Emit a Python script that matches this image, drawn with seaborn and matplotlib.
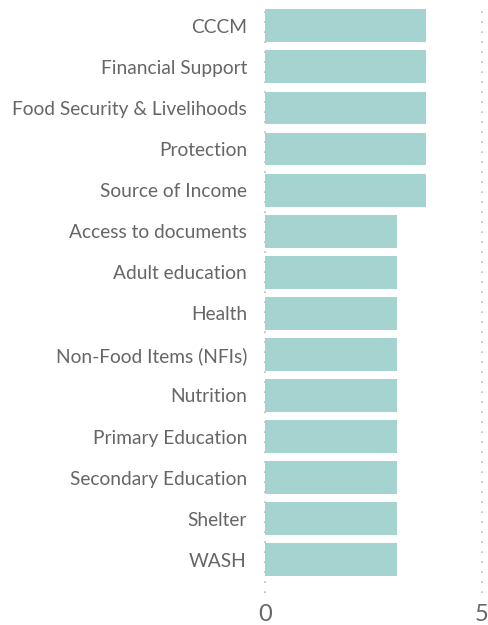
import matplotlib
matplotlib.use("Agg")
import matplotlib.pyplot as plt
import seaborn as sns
import pandas as pd

categories = ["CCCM", "Financial Support", "Food Security & Livelihoods", "Protection",
              "Source of Income", "Access to documents", "Adult education", "Health",
              "Non-Food Items (NFIs)", "Nutrition", "Primary Education",
              "Secondary Education", "Shelter", "WASH"]
values = [3.72, 3.72, 3.72, 3.72, 3.72, 3.03, 3.03, 3.03, 3.03, 3.03, 3.03, 3.03, 3.03, 3.03]
x_ticks = [0, 5]

sns.set_theme(style="white")
plt.rcParams['font.family'] = ['Lato', 'DejaVu Sans']

df = pd.DataFrame({"category": categories, "value": values})

fig = plt.figure(figsize=(4.88, 6.25), dpi=100)
ax = fig.add_axes([265/488, 1-593/625, (482-265)/488, 590/625])
for t in x_ticks:
    ax.axvline(t, color="#b8b8b8", linestyle=(0, (1, 5)), linewidth=1.2,
               zorder=0, clip_on=False)
sns.barplot(data=df, x="value", y="category", orient="h", color="#a5d3d0",
            saturation=1, width=0.8, edgecolor="none", ax=ax, zorder=2)

ax.set_xlim(0, 5)
ax.set_ylim(13 + 0.81, -0.555)
ax.set_xticks(x_ticks)
ax.set_xticklabels([str(t) for t in x_ticks])
for s in ax.spines.values():
    s.set_visible(False)
ax.grid(False)
ax.set_xlabel("")
ax.set_ylabel("")
ax.tick_params(axis="y", length=0, pad=13, labelsize=13.8, labelcolor="#666666")
ax.tick_params(axis="x", length=0, pad=8, labelsize=17, labelcolor="#666666")

fig.savefig("out.png", dpi=100)
